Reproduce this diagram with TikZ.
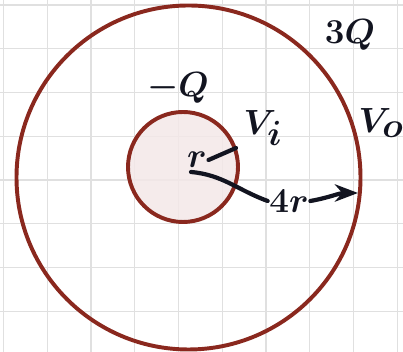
\documentclass[tikz,border=0pt]{standalone}
\usepackage{amsmath}
\usetikzlibrary{arrows.meta,positioning}
\definecolor{shellred}{RGB}{138,40,30}
\definecolor{corefill}{RGB}{243,232,232}
\definecolor{gridgray}{RGB}{224,224,224}
\definecolor{ink}{RGB}{18,20,32}

\begin{document}
\begin{tikzpicture}[x=0.025cm, y=-0.025cm, >=Stealth,
    every node/.style={font=\fontsize{33}{35}\selectfont\boldmath, text=ink, inner sep=1pt},
    shell/.style={line width=2.8pt, draw=shellred},
    pen/.style={line width=3pt, line cap=round, draw=ink}]
  \useasboundingbox (0,0) rectangle (403,352);

  % Grid paper
  \foreach \i in {0,...,9}
    \draw[gridgray, line width=0.8pt] ({3.5+43.75*\i},0) -- ({3.5+43.75*\i},352);
  \foreach \i in {0,...,7}
    \draw[gridgray, line width=0.8pt] (0,{5+43.75*\i}) -- (403,{5+43.75*\i});

  % Shells
  \draw[shell] (188.5,177.5) circle (172);
  \draw[shell, fill=corefill, fill opacity=0.85] (183,167) circle (55);

  % Labels
  \node (outQ) at (350,35) {$3Q$};
  \node (inQ) at (178,88) {$-Q$};
  \node (Vi) at (263,128) {$V_i$};
  \node (Vo) at (381,123) {$V_o$};
  \node (r) at (197,160) {$r$};
  \node (fr) at (289,201) {$4r$};

  % Radii
  \coordinate (ctr) at (191,172);
  \coordinate (edge) at (236,148);
  \coordinate (rim) at (358,193);
  \draw[pen] (r.east) -- (edge);
  \draw[pen] (ctr) to[out=-5, in=160] (fr.west);
  \draw[pen, ->] (fr.east) to[out=10, in=180] (rim);
\end{tikzpicture}
\end{document}
